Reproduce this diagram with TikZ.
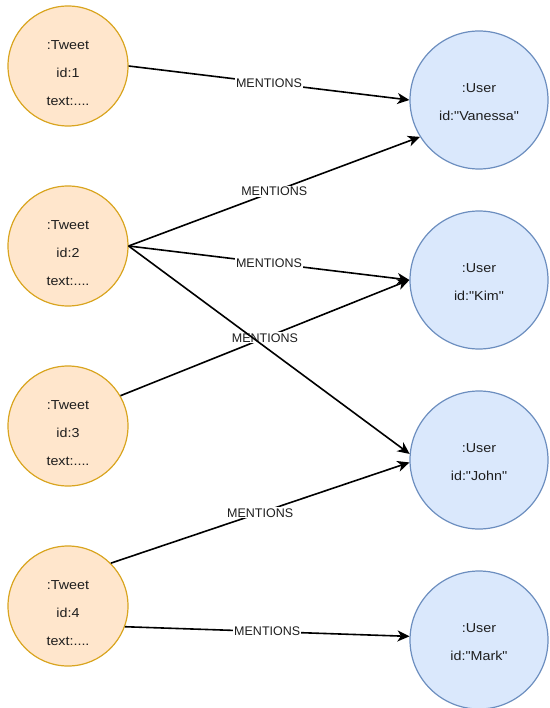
\documentclass[tikz,border=0pt]{standalone}
\usepackage{fontspec}
\setmainfont{Liberation Sans}
\newfontfamily\nodefont{Liberation Sans}[FakeStretch=1.1]
\usetikzlibrary{arrows.meta}
\definecolor{tweetfill}{HTML}{FFE6CC}
\definecolor{tweetline}{HTML}{D9A520}
\definecolor{userfill}{HTML}{DAE8FC}
\definecolor{userline}{HTML}{6C8EBF}
\definecolor{ink}{HTML}{1E1E1E}
\begin{document}
\begin{tikzpicture}[x=1pt,y=-1pt,
  tweet/.style={circle,draw=tweetline,fill=tweetfill,line width=1.2pt,minimum size=120pt,inner sep=0pt},
  user/.style={circle,draw=userline,fill=userfill,line width=1.2pt,minimum size=138pt,inner sep=0pt},
  body/.style={text=ink,font=\nodefont\fontsize{13}{28}\selectfont,align=center,inner sep=0pt},
  rel/.style={draw=black,line width=1.6pt,-{Stealth[length=12pt,width=11pt,inset=3.5pt]}},
  tag/.style={fill=white,inner sep=1pt,text=ink,font=\fontsize{12.5}{14}\selectfont,pos=0.5}]

\useasboundingbox (0,0) rectangle (549,708);

% tweets
\node[tweet] (t1) at (68,66) {};
\node[tweet] (t2) at (68,246) {};
\node[tweet] (t3) at (68,426) {};
\node[tweet] (t4) at (68,606) {};
\node[body,yshift=-7pt] (t1txt) at (t1) {:Tweet\\id:1\\text:....};
\node[body,yshift=-7pt] (t2txt) at (t2) {:Tweet\\id:2\\text:....};
\node[body,yshift=-7pt] (t3txt) at (t3) {:Tweet\\id:3\\text:....};
\node[body,yshift=-7pt] (t4txt) at (t4) {:Tweet\\id:4\\text:....};

% users
\node[user] (u1) at (479,100) {};
\node[user] (u2) at (479,280) {};
\node[user] (u3) at (479,460) {};
\node[user] (u4) at (479,640) {};
\node[body,yshift=-2pt] (u1txt) at (u1) {:User\\id:"Vanessa"};
\node[body,yshift=-2pt] (u2txt) at (u2) {:User\\id:"Kim"};
\node[body,yshift=-2pt] (u3txt) at (u3) {:User\\id:"John"};
\node[body,yshift=-2pt] (u4txt) at (u4) {:User\\id:"Mark"};

% mentions
\draw[rel] (t1.east) -- node[tag] (m1) {MENTIONS} (u1.west);
\draw[rel] (t2.east) -- node[tag] (m2) {MENTIONS} (u1.212);
\draw[rel] (t2.east) -- node[tag] (m3) {MENTIONS} (u2.west);
\draw[rel] (t3.30) -- node[tag] (m4) {MENTIONS} (u2.west);
\draw[rel] (t4.45) -- node[tag] (m5) {MENTIONS} (u3.182);
\draw[rel] (t4.-20) -- node[tag] (m6) {MENTIONS} (u4.177);
% unlabelled edge, drawn over the label it crosses
\draw[rel] (t2.east) -- (u3.175);
\end{tikzpicture}
\end{document}
